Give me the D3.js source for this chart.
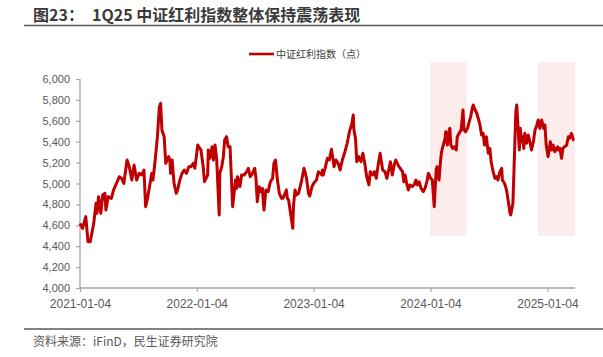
<!DOCTYPE html>
<html>
<head>
<meta charset="utf-8">
<script src="https://cdn.jsdelivr.net/npm/d3@7"></script>
<style>
  html, body { margin: 0; padding: 0; background: #fff; }
  svg { display: block; }
</style>
</head>
<body>
<svg id="chart" width="603" height="357"></svg>
<script>
// ---- data ----
const seriesName = "中证红利指数（点）";
const dates = [
  "2021-01-04","2021-01-12","2021-01-22","2021-01-29","2021-02-05","2021-02-16","2021-02-23","2021-02-26",
  "2021-03-03","2021-03-10","2021-03-16","2021-03-23","2021-03-26","2021-04-02","2021-04-12","2021-04-19",
  "2021-04-26","2021-05-07","2021-05-14","2021-05-21","2021-05-31","2021-06-07","2021-06-15","2021-06-22",
  "2021-06-30","2021-07-08","2021-07-16","2021-07-23","2021-07-28","2021-08-02","2021-08-11","2021-08-16",
  "2021-08-20","2021-08-27","2021-09-03","2021-09-09","2021-09-13","2021-09-17","2021-09-24","2021-09-29",
  "2021-10-08","2021-10-12","2021-10-14","2021-10-19","2021-10-25","2021-11-01","2021-11-05","2021-11-12",
  "2021-11-19","2021-11-26","2021-12-03","2021-12-10","2021-12-17","2021-12-24","2021-12-29",
  "2022-01-07","2022-01-17","2022-01-24","2022-01-28","2022-02-07","2022-02-09","2022-02-14","2022-02-21",
  "2022-02-25","2022-03-02","2022-03-07","2022-03-15","2022-03-17","2022-03-23","2022-03-28","2022-04-01",
  "2022-04-07","2022-04-12","2022-04-18","2022-04-22","2022-04-26","2022-05-05","2022-05-09","2022-05-11",
  "2022-05-19","2022-05-24","2022-06-01","2022-06-09","2022-06-14","2022-06-20","2022-06-24","2022-07-04",
  "2022-07-08","2022-07-12","2022-07-18","2022-07-22","2022-07-28","2022-08-02","2022-08-08","2022-08-15",
  "2022-08-22","2022-08-29","2022-09-02","2022-09-07","2022-09-13","2022-09-19","2022-09-26","2022-09-30",
  "2022-10-11","2022-10-14","2022-10-18","2022-10-21","2022-10-31","2022-11-02","2022-11-07","2022-11-11",
  "2022-11-18","2022-11-28","2022-12-05","2022-12-08","2022-12-13","2022-12-19","2022-12-23","2022-12-30",
  "2023-01-06","2023-01-13","2023-01-19","2023-01-30","2023-02-01","2023-02-03","2023-02-09","2023-02-16",
  "2023-02-22","2023-03-01","2023-03-09","2023-03-15","2023-03-22","2023-03-28","2023-04-04","2023-04-12",
  "2023-04-19","2023-04-26","2023-05-04","2023-05-08","2023-05-10","2023-05-15","2023-05-19","2023-05-25",
  "2023-06-01","2023-06-07","2023-06-13","2023-06-19","2023-06-26","2023-06-30","2023-07-07","2023-07-13",
  "2023-07-19","2023-07-24","2023-07-31","2023-08-03","2023-08-08","2023-08-15","2023-08-21","2023-08-28",
  "2023-09-01","2023-09-07","2023-09-13","2023-09-18","2023-09-25","2023-09-28","2023-10-09","2023-10-13",
  "2023-10-17","2023-10-23","2023-10-27","2023-11-01","2023-11-08","2023-11-14","2023-11-20","2023-11-24",
  "2023-11-30","2023-12-06","2023-12-13","2023-12-19","2023-12-25","2023-12-29",
  "2024-01-05","2024-01-10","2024-01-16","2024-01-22","2024-01-25","2024-01-31","2024-02-05","2024-02-08",
  "2024-02-19","2024-02-21","2024-02-26","2024-02-29","2024-03-05","2024-03-08","2024-03-14","2024-03-19",
  "2024-03-25","2024-03-28","2024-04-03","2024-04-09","2024-04-15","2024-04-18","2024-04-23","2024-04-29",
  "2024-05-06","2024-05-09","2024-05-14","2024-05-17","2024-05-23","2024-05-28","2024-06-03","2024-06-07",
  "2024-06-12","2024-06-17","2024-06-21","2024-06-27","2024-07-03","2024-07-08","2024-07-12","2024-07-18",
  "2024-07-24","2024-07-29","2024-08-02","2024-08-08","2024-08-14","2024-08-16","2024-08-23","2024-08-29",
  "2024-09-03","2024-09-09","2024-09-11","2024-09-13","2024-09-18","2024-09-24","2024-09-27","2024-09-30",
  "2024-10-08","2024-10-11","2024-10-15","2024-10-18","2024-10-22","2024-10-25","2024-10-31","2024-11-05",
  "2024-11-11","2024-11-15","2024-11-21","2024-11-26","2024-12-02","2024-12-06","2024-12-11","2024-12-17",
  "2024-12-23","2024-12-27","2024-12-31",
  "2025-01-06","2025-01-13","2025-01-17","2025-01-22","2025-01-27","2025-02-05","2025-02-07","2025-02-12",
  "2025-02-17","2025-02-21","2025-02-27","2025-03-05","2025-03-10","2025-03-14","2025-03-20","2025-03-26",
  "2025-03-28"
];
const values = [
  4619,4571,4683,4443,4443,4619,4810,4715,
  4874,4715,4890,4906,4746,4874,4858,4938,
  4986,5065,5049,5000,5225,5161,5033,5177,
  5033,5097,5081,5129,4778,4842,5000,5097,
  5033,5225,5448,5735,5767,5512,5448,5193,
  5257,5225,5097,5225,5000,4906,4938,5033,
  5097,5129,5097,5161,5161,5193,5146,
  5368,5321,5161,5017,5081,5321,5241,5352,
  5225,5368,5241,4699,5100,5161,5257,5416,
  5448,5352,5352,5065,4778,5033,4954,5065,
  4970,5081,5081,5113,5145,5065,5081,5145,
  5049,4826,4970,4922,4954,4746,4938,4922,
  5017,5049,5193,5225,5033,4906,4858,4858,
  4938,4858,4842,4778,4571,4778,4938,4890,
  4906,5033,5145,5113,5049,4906,4880,4970,
  5010,5033,5113,5081,5129,5081,5145,5241,
  5225,5327,5161,5225,5193,5129,5225,5305,
  5385,5496,5576,5656,5512,5432,5209,5257,
  5209,5289,5193,5065,4986,5113,5081,5113,
  5049,5161,5289,5225,5129,5113,5049,5145,
  5209,5081,5177,5225,5177,5161,5113,5017,
  5081,4986,4938,4986,4970,4986,5033,4986,
  5017,4954,4922,4960,5030,5097,
  5049,5033,4778,5129,5161,5033,5225,5305,
  5432,5496,5368,5480,5528,5368,5336,5352,
  5321,5448,5480,5512,5703,5512,5496,5528,
  5608,5640,5720,5751,5703,5672,5608,5560,
  5464,5480,5368,5448,5289,5336,5209,5113,
  5049,5065,5033,5110,5145,5033,5000,4940,
  4840,4715,4699,4731,4810,5385,5688,5751,
  5321,5528,5400,5448,5336,5480,5385,5464,
  5385,5321,5400,5512,5560,5608,5528,5608,
  5528,5560,5368,
  5257,5400,5321,5368,5305,5352,5321,5336,
  5241,5336,5352,5368,5448,5432,5480,5416,
  5410
];
const shadeStarts = ["2024-01-03", "2024-12-05"];
const shadeEnds   = ["2024-04-26", "2025-03-31"];
const shadeTop = 6160, shadeBottom = 4500;
const xTickDates = ["2021-01-04","2022-01-04","2023-01-04","2024-01-04","2025-01-04"];
const yTicks = [4000,4200,4400,4600,4800,5000,5200,5400,5600,5800,6000];
const xDomain = ["2021-01-04","2025-03-31"];
const yDomain = [4000, 6000];

// ---- drawing ----
const parse = d3.timeParse("%Y-%m-%d");
const fmtDate = d3.timeFormat("%Y-%m-%d");
const svg = d3.select("#chart");
const data = dates.map((d, i) => ({ date: parse(d), value: values[i] }));

const x = d3.scaleTime().domain(xDomain.map(parse)).range([80, 575]);
const y = d3.scaleLinear().domain(yDomain).range([288, 79]);

const CJK = "'Noto Sans CJK SC', 'Noto Sans', sans-serif";
const LAT = "'Liberation Sans', Arial, sans-serif";

// title
svg.append("text").attr("x", 33).attr("y", 21)
  .attr("font-family", CJK).attr("font-weight", "bold").attr("font-size", 16)
  .attr("fill", "#3a3a3a").text("图23：");
svg.append("text").attr("x", 92).attr("y", 21)
  .attr("font-family", CJK).attr("font-weight", "bold").attr("font-size", 16)
  .attr("fill", "#3a3a3a").text("1Q25 中证红利指数整体保持震荡表现");
svg.append("line").attr("x1", 24).attr("x2", 603).attr("y1", 25.5).attr("y2", 25.5)
  .attr("stroke", "#595959").attr("stroke-width", 1.5);

// shaded ranges
svg.append("g").selectAll("rect").data(shadeStarts).join("rect")
  .attr("x", (d) => x(parse(d)))
  .attr("width", (d, i) => x(parse(shadeEnds[i])) - x(parse(d)))
  .attr("y", y(shadeTop))
  .attr("height", y(shadeBottom) - y(shadeTop))
  .attr("fill", "#fdecec");

// axes
const yAxis = d3.axisLeft(y).tickValues(yTicks).tickSize(4).tickPadding(6)
  .tickFormat(d3.format(","));
const gy = svg.append("g").attr("transform", "translate(80,0)").call(yAxis);
gy.select(".domain").attr("stroke", "#a6a6a6").attr("stroke-width", 1.3);
gy.selectAll(".tick line").attr("stroke", "#a6a6a6").attr("stroke-width", 1.2);
gy.selectAll(".tick text").attr("font-family", LAT).attr("font-size", 11).attr("fill", "#595959");

const xAxis = d3.axisBottom(x).tickValues(xTickDates.map(parse)).tickSize(4).tickPadding(7)
  .tickFormat(fmtDate);
const gx = svg.append("g").attr("transform", "translate(0,288)").call(xAxis);
gx.select(".domain").attr("stroke", "#a6a6a6").attr("stroke-width", 1.3);
gx.selectAll(".tick line").attr("stroke", "#a6a6a6").attr("stroke-width", 1.2);
gx.selectAll(".tick text").attr("font-family", LAT).attr("font-size", 12).attr("fill", "#595959");
gy.selectAll("path.domain").attr("d", "M0,288V79");
gx.selectAll("path.domain").attr("d", "M80,0H575");

// line
const line = d3.line().x((d) => x(d.date)).y((d) => y(d.value));
svg.append("path").datum(data).attr("d", line)
  .attr("fill", "none").attr("stroke", "#c00000").attr("stroke-width", 3)
  .attr("stroke-linejoin", "round");

// legend
svg.append("line").attr("x1", 249).attr("x2", 274).attr("y1", 54).attr("y2", 54)
  .attr("stroke", "#c00000").attr("stroke-width", 2.6);
svg.append("text").attr("x", 276).attr("y", 54).attr("dy", "0.35em")
  .attr("font-family", CJK).attr("font-size", 10).attr("fill", "#404040").text(seriesName);

// footer
svg.append("line").attr("x1", 24).attr("x2", 603).attr("y1", 329).attr("y2", 329)
  .attr("stroke", "#595959").attr("stroke-width", 1.5);
svg.append("text").attr("x", 33).attr("y", 342).attr("dy", "0.35em")
  .attr("font-family", CJK).attr("font-size", 12).attr("fill", "#595959")
  .text("资料来源：iFinD，民生证券研究院");
</script>
</body>
</html>
